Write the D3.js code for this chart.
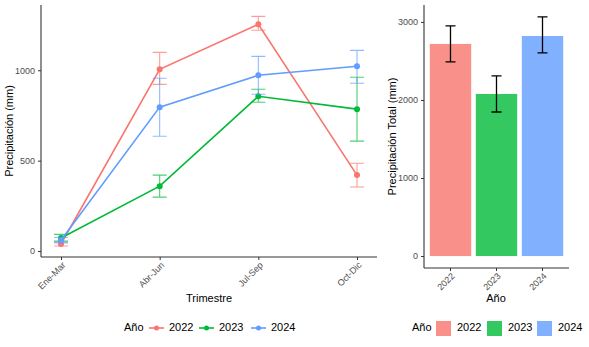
<!DOCTYPE html>
<html>
<head>
<meta charset="utf-8">
<script src="https://cdn.jsdelivr.net/npm/d3@7"></script>
<style>
  body { margin: 0; background: #fff; }
  text { font-family: "Liberation Sans", Arial, sans-serif; }
</style>
</head>
<body>
<div id="chart"></div>
<script>

// datos
const trimestres = ["Ene-Mar", "Abr-Jun", "Jul-Sep", "Oct-Dic"];
const anios = ["2022", "2023", "2024"];
const colores = ["#F8766D", "#00BA38", "#619CFF"];

const media2022 = [39, 1005, 1254, 420];
const min2022   = [28, 922, 1221, 354];
const max2022   = [50, 1099, 1298, 486];

const media2023 = [72, 359, 856, 785];
const min2023   = [55, 298, 823, 608];
const max2023   = [92, 420, 895, 961];

const media2024 = [60, 796, 972, 1022];
const min2024   = [45, 635, 867, 928];
const max2024   = [75, 956, 1077, 1110];

const totales    = [2718, 2077, 2820];
const totalesMin = [2487, 1846, 2603];
const totalesMax = [2949, 2308, 3064];

const ticksIzq = [0, 500, 1000];
const ticksDer = [0, 1000, 2000, 3000];

const series = [
  { anio: "2022", media: media2022, min: min2022, max: max2022 },
  { anio: "2023", media: media2023, min: min2023, max: max2023 },
  { anio: "2024", media: media2024, min: min2024, max: max2024 }
];

const W = 589, H = 347;
const svg = d3.select("#chart").append("svg")
  .attr("width", W).attr("height", H);

const color = d3.scaleOrdinal().domain(anios).range(colores);
const gris = "#4d4d4d";
const fmt = d3.format("d");

function estiloEje(g) {
  g.select(".domain").attr("stroke", "#333").attr("stroke-width", 1.1);
  g.selectAll(".tick line").attr("stroke", "#333");
  g.selectAll(".tick text").attr("fill", gris).style("font-size", "9px");
}

function rotarEtiquetas(g) {
  g.selectAll(".tick text")
    .attr("text-anchor", "end")
    .attr("dy", null).attr("y", 0)
    .attr("transform", "translate(3,7) rotate(-45)")
    .attr("dominant-baseline", "middle");
}

// ---- panel izquierdo ----
const L = { x0: 41, x1: 377, y0: 5, y1: 257 };

const xL = d3.scalePoint().domain(trimestres)
  .range([L.x0 + 20, L.x1 - 20]);
const yL = d3.scaleLinear().domain([-33, 1361]).range([L.y1, L.y0]);

const gL = svg.append("g");

const ejeXL = gL.append("g").attr("transform", `translate(0,${L.y1})`)
  .call(d3.axisBottom(xL).tickSize(3).tickSizeOuter(0));
ejeXL.select(".domain").attr("d", `M${L.x0},0H${L.x1}`);
estiloEje(ejeXL);
rotarEtiquetas(ejeXL);

const ejeYL = gL.append("g").attr("transform", `translate(${L.x0},0)`)
  .call(d3.axisLeft(yL).tickValues(ticksIzq).tickFormat(fmt).tickSize(3).tickSizeOuter(0));
ejeYL.select(".domain").attr("d", `M0,${L.y0}V${L.y1}`);
estiloEje(ejeYL);

gL.append("text").attr("x", 209).attr("y", 302)
  .attr("text-anchor", "middle").style("font-size", "11px").attr("fill", "#000")
  .text("Trimestre");
gL.append("text").attr("transform", `translate(13,${(L.y0 + L.y1) / 2}) rotate(-90)`)
  .attr("text-anchor", "middle").style("font-size", "11px").attr("fill", "#000")
  .text("Precipitación (mm)");

const linea = d3.line()
  .x((d, i) => xL(trimestres[i]))
  .y(d => yL(d));

series.forEach(s => {
  const c = color(s.anio);
  const g = gL.append("g");
  // barras de error
  trimestres.forEach((t, i) => {
    const x = xL(t);
    g.append("path")
      .attr("d", `M${x - 7},${yL(s.min[i])}H${x + 7}M${x},${yL(s.min[i])}V${yL(s.max[i])}M${x - 7},${yL(s.max[i])}H${x + 7}`)
      .attr("stroke", c).attr("stroke-opacity", 0.7).attr("stroke-width", 1.1).attr("fill", "none");
  });
  g.append("path").datum(s.media)
    .attr("d", linea).attr("fill", "none")
    .attr("stroke", c).attr("stroke-width", 1.6);
  g.selectAll("circle").data(s.media).join("circle")
    .attr("cx", (d, i) => xL(trimestres[i]))
    .attr("cy", d => yL(d))
    .attr("r", 3).attr("fill", c);
});

// leyenda izquierda
const legL = svg.append("g");
legL.append("text").attr("x", 124).attr("y", 328).attr("dominant-baseline", "middle")
  .style("font-size", "11px").text("Año");
const legLX = [149, 199, 251];
anios.forEach((a, i) => {
  const x = legLX[i];
  legL.append("line").attr("x1", x).attr("x2", x + 15).attr("y1", 328).attr("y2", 328)
    .attr("stroke", color(a)).attr("stroke-width", 1.6);
  legL.append("circle").attr("cx", x + 7.5).attr("cy", 328).attr("r", 2.5).attr("fill", color(a));
  legL.append("text").attr("x", x + 20).attr("y", 328).attr("dominant-baseline", "middle")
    .style("font-size", "11px").text(a);
});

// ---- panel derecho ----
const R = { x0: 424, x1: 569, y0: 5, y1: 268 };

const xR = d3.scaleBand().domain(anios)
  .range([R.x0, R.x1]).paddingInner(0.1).paddingOuter(0.126);
const yR = d3.scaleLinear().domain([-153, 3217]).range([R.y1, R.y0]);

const gR = svg.append("g");

gR.selectAll("rect.barra").data(totales).join("rect")
  .attr("class", "barra")
  .attr("x", (d, i) => xR(anios[i]))
  .attr("width", xR.bandwidth())
  .attr("y", d => yR(d))
  .attr("height", d => yR(0) - yR(d))
  .attr("fill", (d, i) => color(anios[i]))
  .attr("fill-opacity", 0.8);

totales.forEach((d, i) => {
  const x = xR(anios[i]) + xR.bandwidth() / 2;
  gR.append("path")
    .attr("d", `M${x - 5},${yR(totalesMin[i])}H${x + 5}M${x},${yR(totalesMin[i])}V${yR(totalesMax[i])}M${x - 5},${yR(totalesMax[i])}H${x + 5}`)
    .attr("stroke", "#000").attr("stroke-width", 1.3).attr("fill", "none");
});

const ejeXR = gR.append("g").attr("transform", `translate(0,${R.y1})`)
  .call(d3.axisBottom(xR).tickSize(3).tickSizeOuter(0));
ejeXR.select(".domain").attr("d", `M${R.x0},0H${R.x1}`);
estiloEje(ejeXR);
rotarEtiquetas(ejeXR);

const ejeYR = gR.append("g").attr("transform", `translate(${R.x0},0)`)
  .call(d3.axisLeft(yR).tickValues(ticksDer).tickFormat(fmt).tickSize(3).tickSizeOuter(0));
ejeYR.select(".domain").attr("d", `M0,${R.y0}V${R.y1}`);
estiloEje(ejeYR);

gR.append("text").attr("x", 496).attr("y", 302)
  .attr("text-anchor", "middle").style("font-size", "11px").attr("fill", "#000")
  .text("Año");
gR.append("text").attr("transform", `translate(396,${(R.y0 + R.y1) / 2}) rotate(-90)`)
  .attr("text-anchor", "middle").style("font-size", "11px").attr("fill", "#000")
  .text("Precipitación Total (mm)");

// leyenda derecha
const legR = svg.append("g");
legR.append("text").attr("x", 412).attr("y", 328).attr("dominant-baseline", "middle")
  .style("font-size", "11px").text("Año");
const legRX = [436, 487, 537];
anios.forEach((a, i) => {
  const x = legRX[i];
  legR.append("rect").attr("x", x).attr("y", 321).attr("width", 15).attr("height", 15)
    .attr("fill", color(a)).attr("fill-opacity", 0.8);
  legR.append("text").attr("x", x + 21).attr("y", 328).attr("dominant-baseline", "middle")
    .style("font-size", "11px").text(a);
});

</script>
</body>
</html>
